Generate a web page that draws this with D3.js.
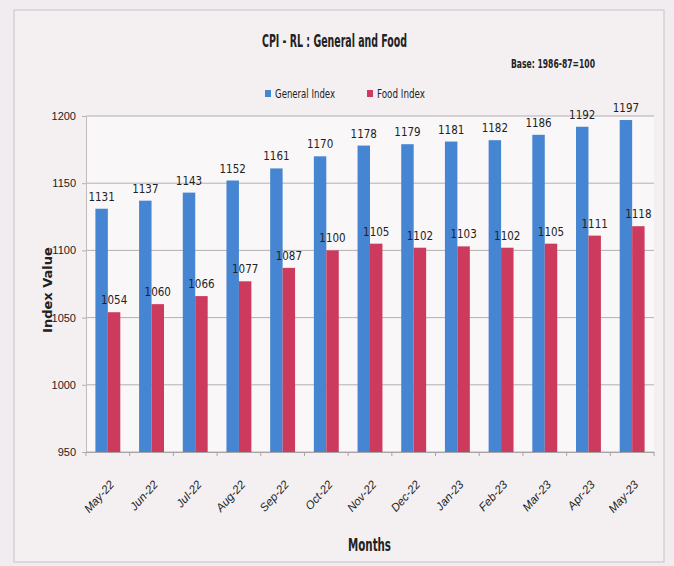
<!DOCTYPE html>
<html>
<head>
<meta charset="utf-8">
<script src="https://cdn.jsdelivr.net/npm/d3@7"></script>
<style>
  body { margin: 0; background: #f1ecef; }
  svg { display: block; font-family: "DejaVu Sans Condensed", "Liberation Sans", sans-serif; }
</style>
</head>
<body>
<svg id="chart" width="674" height="566"></svg>
<script>
const months = ['May-22', 'Jun-22', 'Jul-22', 'Aug-22', 'Sep-22', 'Oct-22', 'Nov-22',
  'Dec-22', 'Jan-23', 'Feb-23', 'Mar-23', 'Apr-23', 'May-23']
const generalIndex = [1131, 1137, 1143, 1152, 1161, 1170, 1178, 1179, 1181, 1182, 1186, 1192, 1197]
const foodIndex = [1054, 1060, 1066, 1077, 1087, 1100, 1105, 1102, 1103, 1102, 1105, 1111, 1118]
const seriesNames = ['General Index', 'Food Index']
const yTicks = [950, 1000, 1050, 1100, 1150, 1200]

const colors = ['#4585d2', '#cc3b5e']
const margin = {top: 116, right: 20, bottom: 114, left: 86}
const width = 654 - margin.left
const height = 452 - margin.top

const svg = d3.select('#chart')

// outer frame
svg.append('rect')
  .attr('x', 14).attr('y', 10)
  .attr('width', 650).attr('height', 552)
  .attr('fill', '#f4f0f2')
  .attr('stroke', '#c8c4c6')

const g = svg.append('g')
  .attr('transform', 'translate(' + margin.left + ',' + margin.top + ')')

g.append('rect')
  .attr('width', width).attr('height', height)
  .attr('fill', '#faf7f9')

const x = d3.scaleBand()
  .domain(months)
  .range([0, width])
  .paddingInner(0.43)
  .paddingOuter(0.215)

const x1 = d3.scaleBand()
  .domain(seriesNames)
  .range([0, x.bandwidth()])

const y = d3.scaleLinear()
  .domain([950, 1200])
  .range([height, 0])

// gridlines
g.append('g')
  .selectAll('line')
  .data(yTicks)
  .enter()
  .append('line')
  .attr('x1', 0)
  .attr('x2', width)
  .attr('y1', d => y(d))
  .attr('y2', d => y(d))
  .attr('stroke', '#b4b0b2')
  .attr('stroke-width', 1)

const yAxis = d3.axisLeft(y).tickValues(yTicks).tickFormat(d3.format('d')).tickSize(4).tickPadding(6)
g.append('g')
  .call(yAxis)
  .call(s => s.select('.domain').attr('stroke', '#c0bcbe'))
  .call(s => s.selectAll('.tick line').attr('stroke', '#b4b0b2'))
  .call(s => s.selectAll('text').attr('font-size', 11).attr('fill', '#222'))

const bandStep = x.step()
const xAxis = d3.axisBottom(x).tickSize(0).tickPadding(0)
const xg = g.append('g')
  .attr('transform', 'translate(0,' + height + ')')
  .call(xAxis)
xg.select('.domain').attr('stroke', '#a8a4a6')
xg.selectAll('text')
  .attr('font-size', 11.5)
  .attr('font-style', 'italic')
  .attr('fill', '#222')
  .attr('text-anchor', 'end')
  .attr('dy', 0)
  .attr('y', 0)
  .attr('transform', 'translate(7,33) rotate(-48)')
// boundary ticks between categories
xg.append('g')
  .selectAll('line')
  .data(d3.range(months.length + 1))
  .enter()
  .append('line')
  .attr('x1', i => i * bandStep)
  .attr('x2', i => i * bandStep)
  .attr('y1', 0)
  .attr('y2', 4)
  .attr('stroke', '#a8a4a6')

const rows = months.map((m, i) => ({month: m, values: [generalIndex[i], foodIndex[i]]}))

const groups = g.selectAll('.grp')
  .data(rows)
  .enter()
  .append('g')
  .attr('transform', d => 'translate(' + x(d.month) + ',0)')

groups.selectAll('rect')
  .data(d => d.values.map((v, k) => ({name: seriesNames[k], v: v, k: k})))
  .enter()
  .append('rect')
  .attr('x', d => x1(d.name))
  .attr('y', d => y(d.v))
  .attr('width', x1.bandwidth())
  .attr('height', d => height - y(d.v))
  .attr('fill', d => colors[d.k])

groups.selectAll('text')
  .data(d => d.values.map((v, k) => ({name: seriesNames[k], v: v, k: k})))
  .enter()
  .append('text')
  .attr('x', d => x1(d.name) + x1.bandwidth() / 2)
  .attr('y', d => y(d.v) - 8)
  .attr('text-anchor', 'middle')
  .attr('font-size', 11.5)
  .attr('fill', '#222')
  .text(d => d.v)

// title and notes
svg.append('text')
  .attr('x', 262).attr('y', 47)
  .attr('font-size', 17)
  .attr('font-weight', 'bold')
  .attr('fill', '#222')
  .attr('textLength', 145)
  .attr('lengthAdjust', 'spacingAndGlyphs')
  .text('CPI - RL : General and Food')

svg.append('text')
  .attr('x', 511).attr('y', 68)
  .attr('font-size', 13)
  .attr('font-weight', 'bold')
  .attr('fill', '#222')
  .attr('textLength', 84)
  .attr('lengthAdjust', 'spacingAndGlyphs')
  .text('Base: 1986-87=100')

// legend
const legendX = [265, 367]
const legendW = [60, 48]
const legend = svg.append('g')
  .selectAll('g')
  .data(seriesNames)
  .enter()
  .append('g')
  .attr('transform', (d, i) => 'translate(' + legendX[i] + ',94)')
legend.append('rect')
  .attr('x', 0).attr('y', -4)
  .attr('width', 6).attr('height', 7)
  .attr('fill', (d, i) => colors[i])
legend.append('text')
  .attr('x', 10).attr('y', 4)
  .attr('font-size', 12.5)
  .attr('fill', '#222')
  .attr('textLength', (d, i) => legendW[i])
  .attr('lengthAdjust', 'spacingAndGlyphs')
  .text(d => d)

// axis titles
svg.append('text')
  .attr('transform', 'translate(52,290) rotate(-90)')
  .attr('text-anchor', 'middle')
  .attr('font-family', 'DejaVu Sans, sans-serif')
  .attr('font-size', 13)
  .attr('font-weight', 'bold')
  .attr('fill', '#222')
  .text('Index Value')

svg.append('text')
  .attr('x', 348).attr('y', 551)
  .attr('font-size', 17)
  .attr('font-weight', 'bold')
  .attr('fill', '#222')
  .attr('textLength', 43)
  .attr('lengthAdjust', 'spacingAndGlyphs')
  .text('Months')
</script>
</body>
</html>
